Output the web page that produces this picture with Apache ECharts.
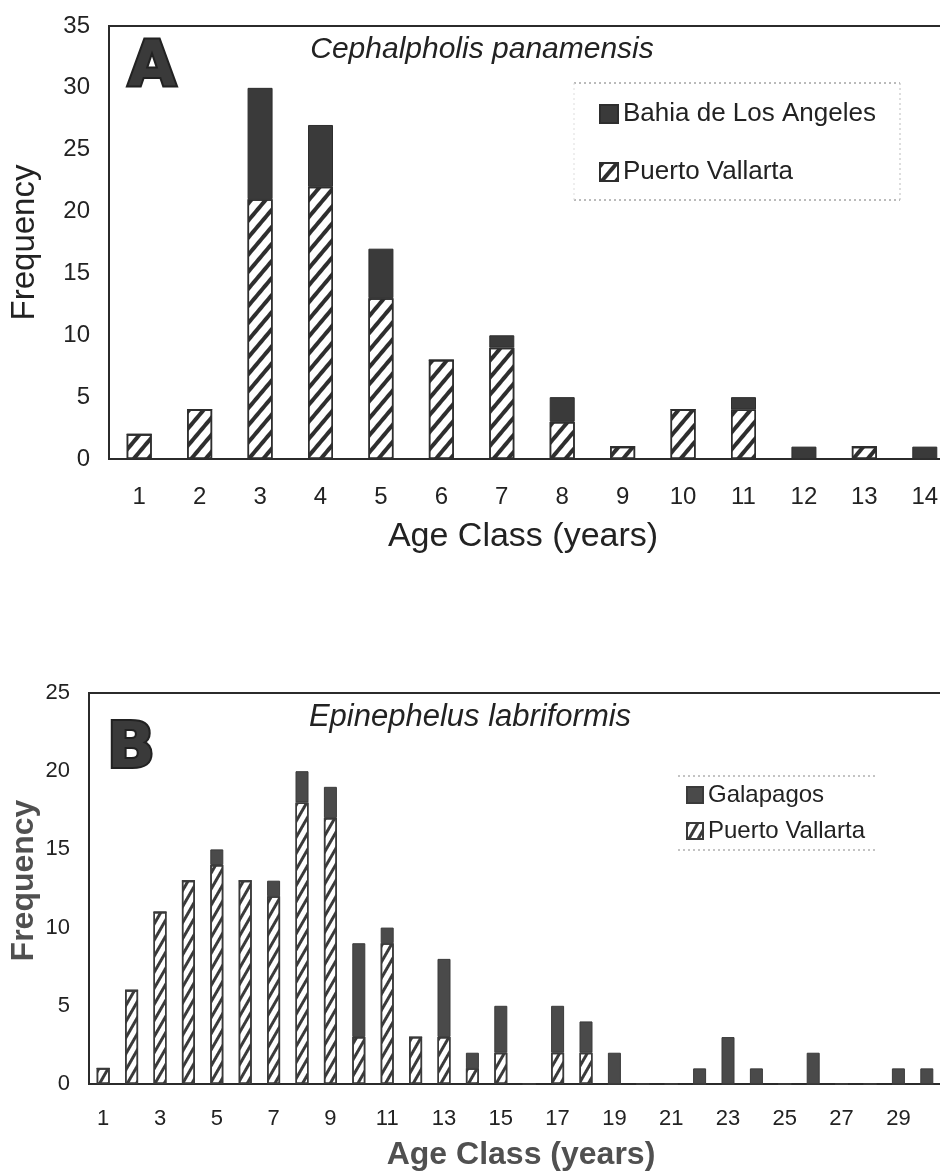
<!DOCTYPE html>
<html><head><meta charset="utf-8">
<script src="https://cdn.jsdelivr.net/npm/echarts@6/dist/echarts.min.js"></script>
<style>html,body{margin:0;padding:0;background:#fff}#c{width:940px;height:1172px}</style>
</head><body><div id="c"></div>
<script>
// ---- Panel A data: Cephalpholis panamensis ----
const ageA = ['1','2','3','4','5','6','7','8','9','10','11','12','13','14'];
const vallartaA = [2,4,21,22,13,8,9,3,1,4,4,0,1,0];
const bahiaA    = [0,0,9,5,4,0,1,2,0,0,1,1,0,1];
const yTicksA = [0,5,10,15,20,25,30,35];

// ---- Panel B data: Epinephelus labriformis ----
const ageB = ['1','2','3','4','5','6','7','8','9','10','11','12','13','14','15','16','17','18','19','20','21','22','23','24','25','26','27','28','29','30'];
const vallartaB  = [1,6,11,13,14,13,12,18,17,3,9,3,3,1,2,0,2,2,0,0,0,0,0,0,0,0,0,0,0,0];
const galapagosB = [0,0,0,0,1,0,1,2,2,6,1,0,5,1,3,0,3,2,2,0,0,1,3,1,0,2,0,0,1,1];
const yTicksB = [0,5,10,15,20,25];

const FONT = '"Liberation Sans", Arial, sans-serif';
const TXT = '#222';
const chart = echarts.init(document.getElementById('c'), null, {renderer:'canvas'});

const hatchA = {symbol:'rect', symbolSize:1, dashArrayX:[1,0], dashArrayY:[3.5,6.5], rotation:-0.87, color:'#2e2e2e'};
const hatchB = {symbol:'rect', symbolSize:1, dashArrayX:[1,0], dashArrayY:[2.2,5], rotation:-1.05, color:'#3a3a3a'};

function dottedLine(x1,y1,x2,y2,c){
  return {type:'line', silent:true, shape:{x1,y1,x2,y2}, style:{stroke:c, lineWidth:1, lineDash:[2,3]}};
}

const option = {
  backgroundColor:'#fff',
  animation:false,
  textStyle:{fontFamily:FONT},
  grid:[
    {left:109, top:26, width:846, height:433, show:true, borderColor:'#2b2b2b', borderWidth:2, containLabel:false, outerBoundsMode:'none'},
    {left:89, top:693, width:852, height:391, show:true, borderColor:'#2b2b2b', borderWidth:2, containLabel:false, outerBoundsMode:'none'}
  ],
  xAxis:[
    {type:'category', gridIndex:0, data:ageA,
     axisLine:{show:true, lineStyle:{color:'#2b2b2b', width:2}}, axisTick:{show:false},
     axisLabel:{fontSize:24, color:TXT, margin:26, fontFamily:FONT},
     name:'Age Class (years)', nameLocation:'middle', nameGap:61, nameMoveOverlap:false,
     nameTextStyle:{fontSize:34, color:TXT, fontFamily:FONT, padding:[0,18,0,0]}},
    {type:'category', gridIndex:1, data:ageB,
     axisLine:{show:true, lineStyle:{color:'#2b2b2b', width:2}}, axisTick:{show:false},
     axisLabel:{fontSize:22, color:TXT, margin:24, interval:1, fontFamily:FONT},
     name:'Age Class (years)', nameLocation:'middle', nameGap:55, nameMoveOverlap:false,
     nameTextStyle:{fontSize:32, fontWeight:'bold', color:'#505050', fontFamily:FONT, padding:[0,0,0,12]}}
  ],
  yAxis:[
    {type:'value', gridIndex:0, min:yTicksA[0], max:yTicksA[yTicksA.length-1], interval:yTicksA[1]-yTicksA[0],
     splitLine:{show:false}, axisLine:{show:false}, axisTick:{show:false},
     axisLabel:{fontSize:24, color:TXT, margin:19, fontFamily:FONT},
     name:'Frequency', nameLocation:'middle', nameRotate:90, nameGap:68, nameMoveOverlap:false,
     nameTextStyle:{fontSize:33, color:TXT, fontFamily:FONT}},
    {type:'value', gridIndex:1, min:yTicksB[0], max:yTicksB[yTicksB.length-1], interval:yTicksB[1]-yTicksB[0],
     splitLine:{show:false}, axisLine:{show:false}, axisTick:{show:false},
     axisLabel:{fontSize:22, color:TXT, margin:19, fontFamily:FONT},
     name:'Frequency', nameLocation:'middle', nameRotate:90, nameGap:49, nameMoveOverlap:false,
     nameTextStyle:{fontSize:32, fontWeight:'bold', color:'#505050', fontFamily:FONT, padding:[0,0,0,16]}}
  ],
  legend:[
    {data:['Bahia de Los Angeles','Puerto Vallarta'], orient:'vertical', left:599, top:101, padding:0,
     itemWidth:18, itemHeight:18, itemGap:32, icon:'rect',
     textStyle:{fontSize:26, lineHeight:26, color:TXT, fontFamily:FONT}},
    {data:['Galapagos','Puerto Vallarta B'], orient:'vertical', left:686, top:783, padding:0,
     itemWidth:16, itemHeight:16, itemGap:12, icon:'rect',
     formatter:function(n){return n==='Puerto Vallarta B' ? 'Puerto Vallarta' : n;},
     textStyle:{fontSize:24, lineHeight:24, color:TXT, fontFamily:FONT}}
  ],
  series:[
    {type:'bar', name:'Puerto Vallarta', xAxisIndex:0, yAxisIndex:0, stack:'A', data:vallartaA, barWidth:25,
     itemStyle:{color:'#fff', borderColor:'#2e2e2e', borderWidth:1.5, decal:hatchA}},
    {type:'bar', name:'Bahia de Los Angeles', xAxisIndex:0, yAxisIndex:0, stack:'A', data:bahiaA, barWidth:25,
     itemStyle:{color:'#3a3a3a', borderColor:'#2e2e2e', borderWidth:1}},
    {type:'bar', name:'Puerto Vallarta B', xAxisIndex:1, yAxisIndex:1, stack:'B', data:vallartaB, barWidth:13,
     itemStyle:{color:'#fff', borderColor:'#3a3a3a', borderWidth:1.5, decal:hatchB}},
    {type:'bar', name:'Galapagos', xAxisIndex:1, yAxisIndex:1, stack:'B', data:galapagosB, barWidth:13,
     itemStyle:{color:'#4a4a4a', borderColor:'#3a3a3a', borderWidth:1}}
  ],
  graphic:[
    {type:'text', silent:true, style:{text:'A', x:152, y:69, textAlign:'center', textVerticalAlign:'middle', verticalAlign:'middle',
      font:'bold 62px "DejaVu Sans"', fill:'#3a3a3a', stroke:'#222', lineWidth:4}},
    {type:'text', silent:true, style:{text:'B', x:131, y:751, textAlign:'center', textVerticalAlign:'middle', verticalAlign:'middle',
      font:'bold 63px "DejaVu Sans"', fill:'#3a3a3a', stroke:'#222', lineWidth:4}},
    {type:'text', silent:true, style:{text:'Cephalpholis panamensis', x:482, y:50, textAlign:'center', textVerticalAlign:'middle', verticalAlign:'middle',
      font:'italic 30px "Liberation Sans"', fill:TXT}},
    {type:'text', silent:true, style:{text:'Epinephelus labriformis', x:470, y:717, textAlign:'center', textVerticalAlign:'middle', verticalAlign:'middle',
      font:'italic 31px "Liberation Sans"', fill:TXT}},
    dottedLine(574,83,900,83,'#777'),
    dottedLine(574,200,900,200,'#777'),
    dottedLine(900,83,900,200,'#bbb'),
    dottedLine(574,83,574,200,'#ddd'),
    dottedLine(678,776,878,776,'#888'),
    dottedLine(678,850,878,850,'#888')
  ]
};
chart.setOption(option);
</script></body></html>
